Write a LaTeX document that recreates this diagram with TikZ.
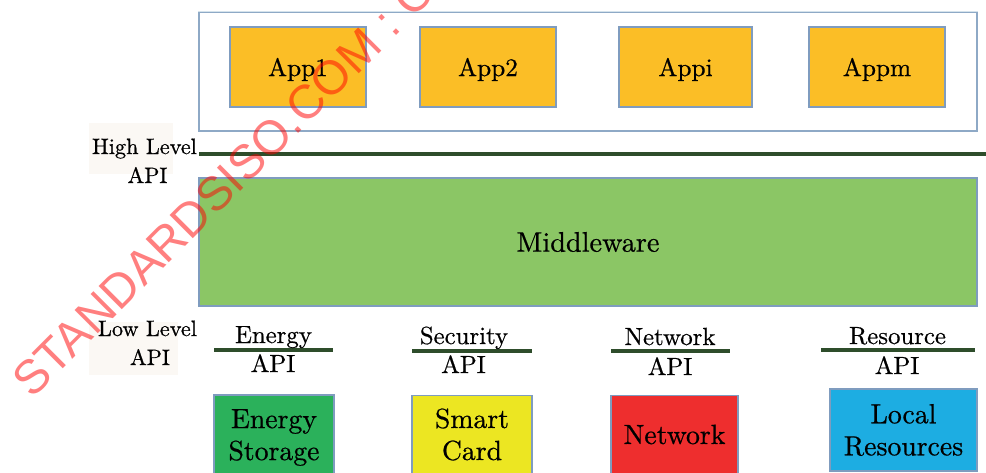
\documentclass[tikz,border=0pt]{standalone}
\usepackage{fontspec}
\setmainfont{lmroman10-regular}[Extension=.otf,FakeBold=0.6]
\newfontfamily\wmfont{Liberation Sans}
\definecolor{appfill}{HTML}{FBBE26}
\definecolor{bord}{HTML}{7F9CBF}
\definecolor{outerb}{HTML}{8EA9C6}
\definecolor{outertop}{HTML}{D5E3EC}
\definecolor{mwfill}{HTML}{8BC665}
\definecolor{apigreen}{HTML}{2E4D2B}
\definecolor{lblbg}{HTML}{FBF8F4}
\definecolor{esfill}{HTML}{2BB15B}
\definecolor{scfill}{HTML}{ECE622}
\definecolor{nwfill}{HTML}{EE2E2E}
\definecolor{lrfill}{HTML}{1DADE2}
\begin{document}
\begin{tikzpicture}[x=0.75pt,y=-0.75pt,
  box/.style={draw=bord, line width=0.8pt, inner sep=0pt, align=center},
  appbox/.style={box, fill=appfill, minimum height=60pt, text depth=0pt,
    font=\fontsize{19}{23}\selectfont},
  hwbox/.style={box, font=\fontsize{20.8}{24}\selectfont},
  apiline/.style={draw=apigreen, line width=3pt},
  apitext/.style={anchor=base, inner sep=0pt, font=\fontsize{18.6}{22}\selectfont},
  lvltext/.style={anchor=base, inner sep=0pt, font=\fontsize{16.7}{20}\selectfont},
  lblbox/.style={fill=lblbg, inner sep=0pt},
  wm/.style={anchor=base west, inner sep=0pt, rotate=45, text=red, text opacity=0.5,
    font=\wmfont\fontsize{35.8}{40}\selectfont}
]
\useasboundingbox (0,0) rectangle (986,472);

% application layer
\node[draw=outerb, line width=1pt, minimum width=583.5pt, minimum height=89.25pt, inner sep=0pt] (apps) at (588,71.5) {};
\draw[outertop, line width=1pt] (apps.north west) -- (apps.north east);
\node[appbox, minimum width=102pt] (app1) at (298,67) {App1};
\node[appbox, minimum width=102pt] (app2) at (488,67) {App2};
\node[appbox, minimum width=99.75pt] (appi) at (685.5,67) {Appi};
\node[appbox, minimum width=102pt] (appm) at (877,67) {Appm};

% high level API
\node[lblbox, minimum width=63pt, minimum height=38.25pt] (hlbg) at (131,148.5) {};
\node[lvltext] (hl1t) at (144.5,154) {High Level};
\node[lvltext] (hl2t) at (147.5,183) {API};
\coordinate (hlA) at (199,154);
\coordinate (hlB) at (986,154);
\draw[apiline] (hlA) -- (hlB);

% middleware
\node[box, fill=mwfill, minimum width=583.5pt, minimum height=96pt,
  font=\fontsize{21.2}{25}\selectfont] (mw) at (588,242) {Middleware};

% low level API
\node[lblbox, minimum width=66.75pt, minimum height=39.75pt] (llbg) at (133.5,348.5) {};
\node[lvltext] (ll1t) at (147.5,336) {Low Level};
\node[lvltext] (ll2t) at (150,365) {API};

% API lines and labels
\coordinate (eA) at (214,350); \coordinate (eB) at (333,350);
\draw[apiline] (eA) -- (eB);
\node[apitext] (eT) at (273.5,343) {Energy};
\node[apitext] (eT2) at (273,372) {API};

\coordinate (sA) at (412,350.5); \coordinate (sB) at (532,350.5);
\draw[apiline] (sA) -- (sB);
\node[apitext] (sT) at (464,344) {Security};
\node[apitext] (sT2) at (463.5,373) {API};

\coordinate (nA) at (611,351); \coordinate (nB) at (730,351);
\draw[apiline] (nA) -- (nB);
\node[apitext] (nT) at (670,345) {Network};
\node[apitext] (nT2) at (670,375) {API};

\coordinate (rA) at (821,349.5); \coordinate (rB) at (975,349.5);
\draw[apiline] (rA) -- (rB);
\node[apitext] (rT) at (897.5,344) {Resource};
\node[apitext] (rT2) at (897,374) {API};

% hardware resources
\node[hwbox, fill=esfill, minimum width=90pt, minimum height=63.75pt] (es) at (274,437.5) {Energy\\Storage};
\node[hwbox, fill=scfill, minimum width=90pt, minimum height=59pt] (sc) at (472,434.5) {Smart\\Card};
\node[hwbox, fill=nwfill, minimum width=95.25pt, minimum height=59pt] (nw) at (674.5,434.5) {Network};
\node[hwbox, fill=lrfill, minimum width=110.25pt, minimum height=61.5pt] (lr) at (903.5,430) {Local\\Resources};

% watermark
\node[wm] (wmark) at (32,400) {STANDARDSISO.COM : C};
\end{tikzpicture}
\end{document}
